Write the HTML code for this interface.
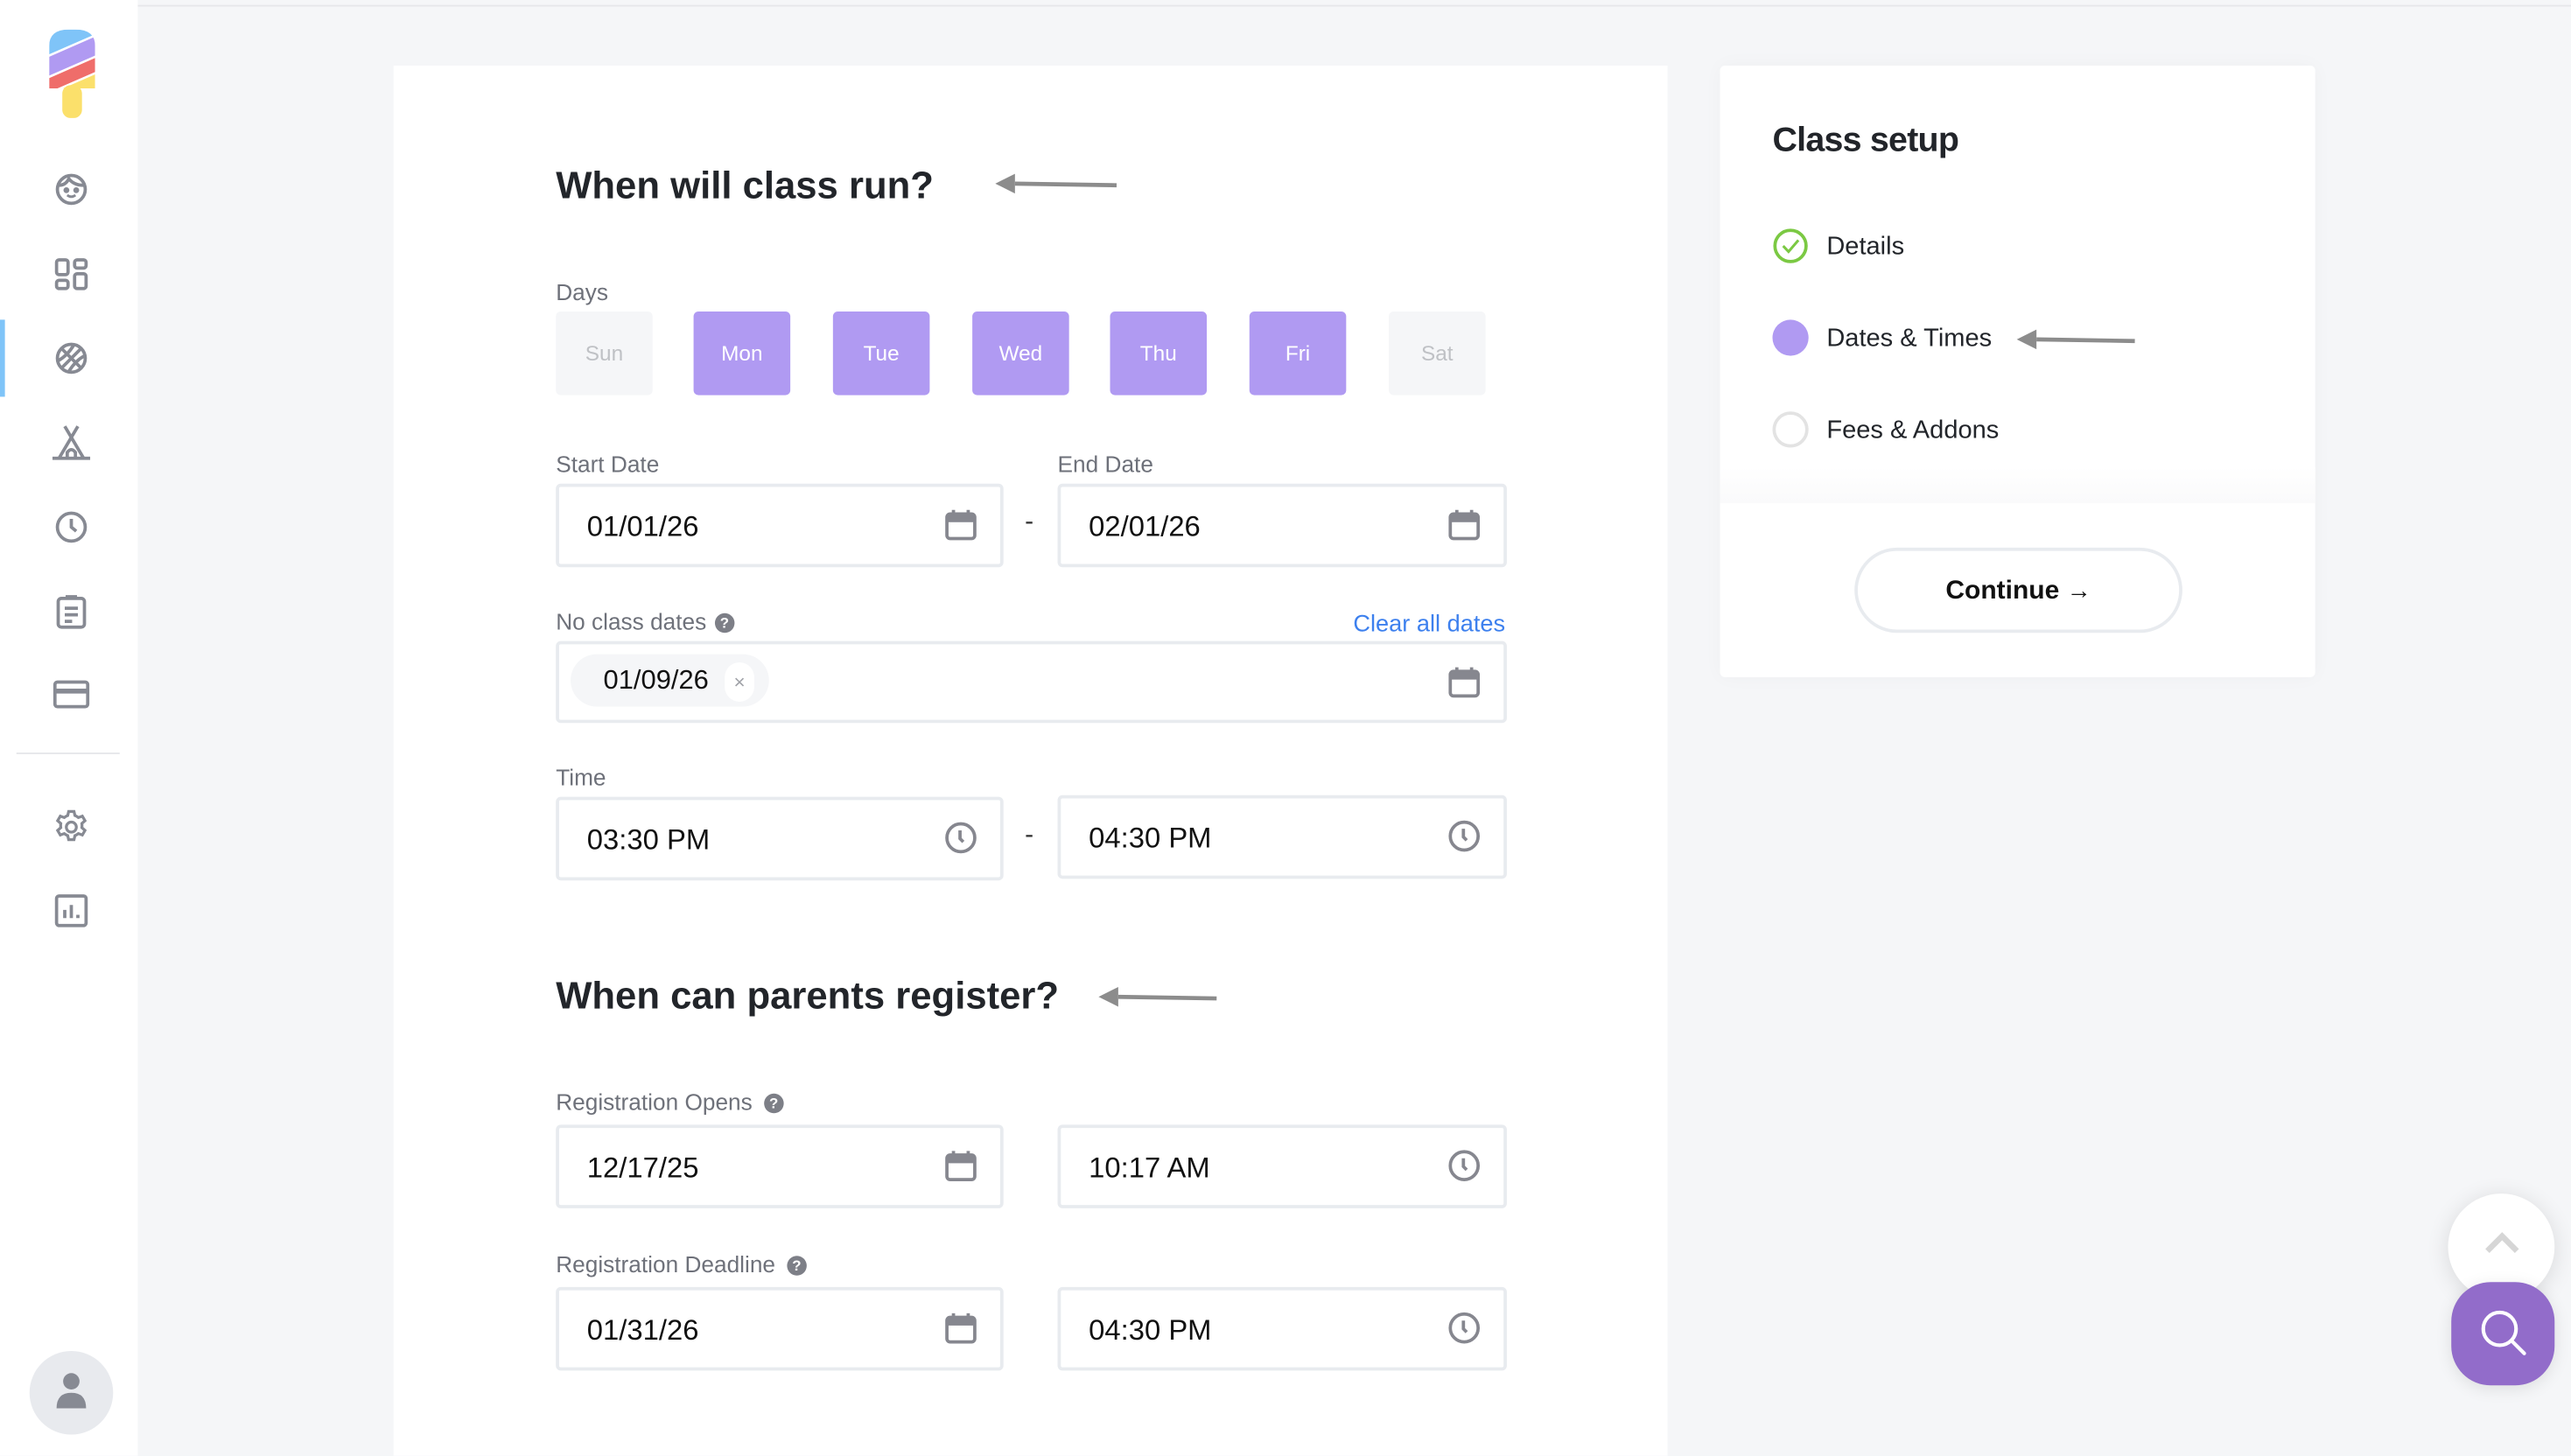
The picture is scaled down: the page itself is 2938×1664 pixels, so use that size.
<!DOCTYPE html>
<html><head><meta charset="utf-8">
<style>
*{box-sizing:border-box;margin:0;padding:0}
html,body{width:2938px;height:1664px;overflow:hidden;background:#f5f6f8}
#s{position:absolute;left:0;top:0;width:1568px;height:888px;overflow:hidden;transform:scale(1.87372);transform-origin:0 0;font-family:"Liberation Sans",sans-serif;background:#f5f6f8}
.a{position:absolute}
.side{left:0;top:0;width:84px;height:888px;background:#fff}
.topline{left:84px;top:3px;width:1484px;height:1px;background:#e6e7ea}
.card{left:240px;top:40px;width:777px;height:848px;background:#fff}
h1,h2{position:absolute;font-weight:bold;color:#22252a;white-space:nowrap}
.lbl{position:absolute;font-size:14px;color:#6e717a;white-space:nowrap}
.day{position:absolute;top:190px;width:59px;height:51px;border-radius:3px;background:#b09af2;color:#fff;font-size:13px;text-align:center;line-height:51px}
.day.off{background:#f5f6f8;color:#bfc1c5}
.inp{position:absolute;height:51px;border:2px solid #e8ebef;border-radius:3px;background:#fff}
.inp .t{position:absolute;left:17px;top:1px;line-height:47px;font-size:17.5px;color:#111}
.inp svg{position:absolute;right:14px;top:13px}
.dash{position:absolute;font-size:16px;color:#333}
.help{display:inline-block;width:12px;height:12px;border-radius:50%;background:#7d7f87;color:#fff;font-size:9px;font-weight:bold;text-align:center;line-height:12px;vertical-align:1px;margin-left:5px}
.panel{left:1049px;top:40px;width:363px;height:373px;background:#fff;border-radius:3px;box-shadow:0 0 12px rgba(0,0,0,0.03)}
.step{position:absolute;left:1114px;font-size:15.5px;color:#22252a;white-space:nowrap}
</style></head><body>
<div id="s">
<div class="a topline"></div>
<div class="a side"></div>
<div class="a" style="left:0;top:195px;width:3px;height:47px;background:#7fc4f8"></div>
<div class="a" style="left:10px;top:459px;width:63px;height:1px;background:#e6e7ea"></div>

<!-- logo -->
<svg class="a" style="left:28px;top:16px" width="32" height="58" viewBox="0 0 32 58">
<defs><clipPath id="pc"><path d="M2 12 Q2 2 14 2 L18 2 Q30 2 30 12 L30 38 L2 38 Z"/></clipPath></defs>
<g clip-path="url(#pc)">
<rect x="0" y="0" width="32" height="40" fill="#fff"/>
<polygon points="0,0 32,0 32,4 0,18" fill="#7fc4f8"/>
<polygon points="0,19.5 32,5.5 32,17 0,31" fill="#b09af2"/>
<polygon points="0,32.5 32,18.5 32,27 0,41" fill="#ef6d6a"/>
<polygon points="0,42.5 32,28.5 32,40 0,40" fill="#fbe06b"/>
</g>
<rect x="10" y="36" width="12" height="20" rx="5" fill="#fbe06b"/>
</svg>

<!-- sidebar icons -->
<svg class="a" style="left:33px;top:105px" width="21" height="21" viewBox="0 0 21 21" fill="none" stroke="#878a93" stroke-width="2"><circle cx="10.5" cy="10.5" r="8.5"/><path d="M3 8 Q7 8 9 4 Q12 8 18 8" /><circle cx="7.5" cy="11" r="0.8" fill="#878a93"/><circle cx="13.5" cy="11" r="0.8" fill="#878a93"/><path d="M8 14 Q10.5 16 13 14" stroke-width="1.5"/></svg>
<svg class="a" style="left:33px;top:157px" width="21" height="21" viewBox="0 0 21 21" fill="none" stroke="#878a93" stroke-width="2"><rect x="1.5" y="1.5" width="7" height="9" rx="1.5"/><rect x="1.5" y="14" width="7" height="5" rx="1.5"/><rect x="12.5" y="1.5" width="7" height="5" rx="1.5"/><rect x="12.5" y="10" width="7" height="9" rx="1.5"/></svg>
<svg class="a" style="left:33px;top:208px" width="21" height="21" viewBox="0 0 21 21" fill="none" stroke="#878a93" stroke-width="2"><circle cx="10.5" cy="10.5" r="8.5"/><path d="M4.5 4.5 L16.5 16.5 M16.5 4.5 L4.5 16.5 M2.5 12 Q8 9 12 2.5 M18.5 9 Q13 12 9 18.5"/></svg>
<svg class="a" style="left:31px;top:259px" width="25" height="22" viewBox="0 0 25 22" fill="none" stroke="#878a93" stroke-width="2"><path d="M1 20.5 H24 M8.5 1 L20 20.5 M16.5 1 L5 20.5 M10 20.5 V17 Q12.5 13.5 15 17 V20.5"/></svg>
<svg class="a" style="left:33px;top:311px" width="21" height="21" viewBox="0 0 21 21" fill="none" stroke="#878a93" stroke-width="2"><circle cx="10.5" cy="10.5" r="8.5"/><path d="M10.5 5.5 V10.5 L13.5 13"/></svg>
<svg class="a" style="left:34px;top:362px" width="19" height="22" viewBox="0 0 19 22" fill="none" stroke="#878a93" stroke-width="2"><rect x="1.5" y="3" width="16" height="17.5" rx="2"/><path d="M6 2 H13 M5.5 9 H13.5 M5.5 13 H13.5 M5.5 17 H10"/></svg>
<svg class="a" style="left:32px;top:414px" width="23" height="19" viewBox="0 0 23 19" fill="none" stroke="#878a93" stroke-width="2"><rect x="1.5" y="2" width="20" height="15" rx="1.5"/><path d="M1.5 7.5 H21.5" stroke-width="3"/></svg>
<svg class="a" style="left:32px;top:493px" width="23" height="23" viewBox="0 0 24 24" fill="none" stroke="#878a93" stroke-width="1.8"><circle cx="12" cy="12" r="3.2"/><path d="M10.3 2 h3.4 l0.6 2.6 a8 8 0 0 1 2.2 1.3 l2.5 -0.9 l1.7 2.9 l-2 1.8 a8 8 0 0 1 0 2.6 l2 1.8 l-1.7 2.9 l-2.5 -0.9 a8 8 0 0 1 -2.2 1.3 l-0.6 2.6 h-3.4 l-0.6 -2.6 a8 8 0 0 1 -2.2 -1.3 l-2.5 0.9 l-1.7 -2.9 l2 -1.8 a8 8 0 0 1 0 -2.6 l-2 -1.8 l1.7 -2.9 l2.5 0.9 a8 8 0 0 1 2.2 -1.3 z"/></svg>
<svg class="a" style="left:33px;top:545px" width="21" height="21" viewBox="0 0 21 21" fill="none" stroke="#878a93" stroke-width="2"><rect x="1.5" y="1.5" width="18" height="18" rx="1.5"/><path d="M6.5 15 V10 M10.5 15 V7 M14.5 15 V13"/></svg>
<div class="a" style="left:18px;top:824px;width:51px;height:51px;border-radius:50%;background:#e8eaee"></div>
<svg class="a" style="left:33px;top:836px" width="21" height="24" viewBox="0 0 21 24" fill="#878a93"><circle cx="10.5" cy="6.5" r="5"/><path d="M1.5 23 Q1.5 13.5 10.5 13.5 Q19.5 13.5 19.5 23 Z"/></svg>

<!-- main card -->
<div class="a card"></div>
<h1 style="left:339px;top:100px;font-size:23.3px">When will class run?</h1>
<svg class="a" style="left:605px;top:104px" width="78" height="16"><path d="M14 8 L76 9" stroke="#8c8c8c" stroke-width="2.5"/><polygon points="2,8 14,2 14,14" fill="#8c8c8c"/></svg>
<div class="lbl" style="left:339px;top:170px">Days</div>
<div class="day off" style="left:339px">Sun</div>
<div class="day" style="left:423px">Mon</div>
<div class="day" style="left:508px">Tue</div>
<div class="day" style="left:593px">Wed</div>
<div class="day" style="left:677px">Thu</div>
<div class="day" style="left:762px">Fri</div>
<div class="day off" style="left:847px">Sat</div>

<div class="lbl" style="left:339px;top:275px">Start Date</div>
<div class="lbl" style="left:645px;top:275px">End Date</div>
<div class="inp" style="left:339px;top:295px;width:273px"><span class="t">01/01/26</span><svg width="20" height="20" viewBox="0 0 20 20"><rect x="1.5" y="3.5" width="17" height="15" rx="2" fill="none" stroke="#86878f" stroke-width="2"/><rect x="1.5" y="3.5" width="17" height="5" fill="#86878f"/><path d="M5.5 1 V4 M14.5 1 V4" stroke="#86878f" stroke-width="2"/></svg></div>
<div class="dash" style="left:625px;top:310px">-</div>
<div class="inp" style="left:645px;top:295px;width:274px"><span class="t">02/01/26</span><svg width="20" height="20" viewBox="0 0 20 20"><rect x="1.5" y="3.5" width="17" height="15" rx="2" fill="none" stroke="#86878f" stroke-width="2"/><rect x="1.5" y="3.5" width="17" height="5" fill="#86878f"/><path d="M5.5 1 V4 M14.5 1 V4" stroke="#86878f" stroke-width="2"/></svg></div>

<div class="lbl" style="left:339px;top:371px">No class dates<span class="help">?</span></div>
<div class="a" style="left:718px;top:373px;width:200px;text-align:right;font-size:14.5px;color:#3d80ee;white-space:nowrap">Clear all dates</div>
<div class="inp" style="left:339px;top:391px;width:580px;height:50px"><svg width="20" height="20" viewBox="0 0 20 20" style="top:13px"><rect x="1.5" y="3.5" width="17" height="15" rx="2" fill="none" stroke="#86878f" stroke-width="2"/><rect x="1.5" y="3.5" width="17" height="5" fill="#86878f"/><path d="M5.5 1 V4 M14.5 1 V4" stroke="#86878f" stroke-width="2"/></svg></div>
<div class="a" style="left:348px;top:399px;width:121px;height:32px;border-radius:16px;background:#f5f6f8"></div>
<div class="a" style="left:368px;top:406px;font-size:16.5px;color:#111">01/09/26</div>
<div class="a" style="left:442px;top:404px;width:18px;height:24px;border-radius:9px;background:#fff;color:#a0a2a8;font-size:12px;text-align:center;line-height:24px">×</div>

<div class="lbl" style="left:339px;top:466px">Time</div>
<div class="inp" style="left:339px;top:486px;width:273px"><span class="t">03:30 PM</span><svg width="20" height="20" viewBox="0 0 20 20" fill="none" stroke="#86878f" stroke-width="2"><circle cx="10" cy="10" r="8.5"/><path d="M9.5 5.5 V10.5 L11.5 12.5"/></svg></div>
<div class="dash" style="left:625px;top:501px">-</div>
<div class="inp" style="left:645px;top:485px;width:274px"><span class="t">04:30 PM</span><svg width="20" height="20" viewBox="0 0 20 20" fill="none" stroke="#86878f" stroke-width="2"><circle cx="10" cy="10" r="8.5"/><path d="M9.5 5.5 V10.5 L11.5 12.5"/></svg></div>

<h2 style="left:339px;top:594px;font-size:23.3px">When can parents register?</h2>
<svg class="a" style="left:668px;top:600px" width="78" height="16"><path d="M14 8 L74 9" stroke="#8c8c8c" stroke-width="2.5"/><polygon points="2,8 14,2 14,14" fill="#8c8c8c"/></svg>

<div class="lbl" style="left:339px;top:664px">Registration Opens<span class="help" style="margin-left:7px">?</span></div>
<div class="inp" style="left:339px;top:686px;width:273px"><span class="t">12/17/25</span><svg width="20" height="20" viewBox="0 0 20 20"><rect x="1.5" y="3.5" width="17" height="15" rx="2" fill="none" stroke="#86878f" stroke-width="2"/><rect x="1.5" y="3.5" width="17" height="5" fill="#86878f"/><path d="M5.5 1 V4 M14.5 1 V4" stroke="#86878f" stroke-width="2"/></svg></div>
<div class="inp" style="left:645px;top:686px;width:274px"><span class="t">10:17 AM</span><svg width="20" height="20" viewBox="0 0 20 20" fill="none" stroke="#86878f" stroke-width="2"><circle cx="10" cy="10" r="8.5"/><path d="M9.5 5.5 V10.5 L11.5 12.5"/></svg></div>

<div class="lbl" style="left:339px;top:763px">Registration Deadline<span class="help" style="margin-left:7px">?</span></div>
<div class="inp" style="left:339px;top:785px;width:273px"><span class="t">01/31/26</span><svg width="20" height="20" viewBox="0 0 20 20"><rect x="1.5" y="3.5" width="17" height="15" rx="2" fill="none" stroke="#86878f" stroke-width="2"/><rect x="1.5" y="3.5" width="17" height="5" fill="#86878f"/><path d="M5.5 1 V4 M14.5 1 V4" stroke="#86878f" stroke-width="2"/></svg></div>
<div class="inp" style="left:645px;top:785px;width:274px"><span class="t">04:30 PM</span><svg width="20" height="20" viewBox="0 0 20 20" fill="none" stroke="#86878f" stroke-width="2"><circle cx="10" cy="10" r="8.5"/><path d="M9.5 5.5 V10.5 L11.5 12.5"/></svg></div>

<!-- right panel -->
<div class="a panel"></div>
<div class="a" style="left:1049px;top:285px;width:363px;height:22px;background:linear-gradient(#fff,#fafafb)"></div>
<div class="a" style="left:1081px;top:74px;font-size:21px;letter-spacing:-0.4px;font-weight:bold;color:#22252a;white-space:nowrap">Class setup</div>
<svg class="a" style="left:1081px;top:139px" width="22" height="22" viewBox="0 0 22 22" fill="none" stroke="#7bc943" stroke-width="2"><circle cx="11" cy="11" r="9.5"/><path d="M6.5 11 L9.8 14.5 L15.8 7.5" stroke-width="1.6"/></svg>
<div class="step" style="top:142px">Details</div>
<div class="a" style="left:1081px;top:195px;width:22px;height:22px;border-radius:50%;background:#b09af2"></div>
<div class="step" style="top:198px">Dates &amp; Times</div>
<svg class="a" style="left:1228px;top:199px" width="78" height="16"><path d="M14 8 L74 9" stroke="#8c8c8c" stroke-width="2.5"/><polygon points="2,8 14,2 14,14" fill="#8c8c8c"/></svg>
<div class="a" style="left:1081px;top:251px;width:22px;height:22px;border-radius:50%;border:2px solid #e3e3e3"></div>
<div class="step" style="top:254px">Fees &amp; Addons</div>
<div class="a" style="left:1131px;top:334px;width:200px;height:52px;border-radius:26px;border:2px solid #e8ebef;text-align:center;line-height:50px;font-size:16px;font-weight:bold;color:#111">Continue <span style="font-size:15px">→</span></div>

<!-- floating buttons -->
<div class="a" style="left:1493px;top:728px;width:65px;height:65px;border-radius:50%;background:#fff;box-shadow:0 2px 14px rgba(0,0,0,0.12)"></div>
<svg class="a" style="left:1515px;top:750px" width="22" height="16"><path d="M2 13 L11 4 L20 13" fill="none" stroke="#d6d6d6" stroke-width="3.5"/></svg>
<div class="a" style="left:1495px;top:782px;width:63px;height:63px;border-radius:24px;background:#926cca;box-shadow:0 2px 10px rgba(0,0,0,0.1)"></div>
<svg class="a" style="left:1511px;top:797px" width="32" height="32" viewBox="0 0 32 32" fill="none" stroke="#fff" stroke-width="2.2"><circle cx="13.5" cy="13.5" r="10"/><path d="M21 21 L28.5 28.5" stroke-linecap="round"/></svg>
</div>
</body></html>
